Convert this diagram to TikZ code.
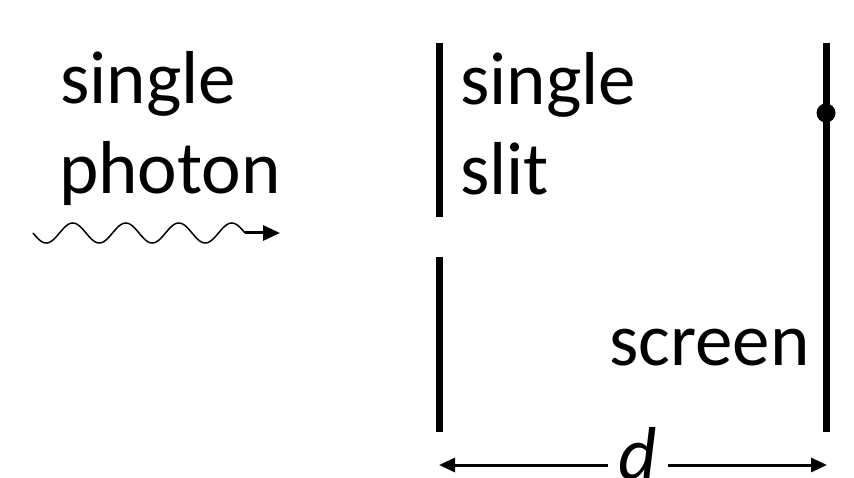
\documentclass[tikz,border=0pt]{standalone}
\usepackage{fontspec}
\setmainfont{Carlito}
\usetikzlibrary{arrows.meta}
\begin{document}
\begin{tikzpicture}[x=1pt,y=-1pt,
  label/.style={anchor=base west,inner sep=0pt,font=\fontsize{75}{90}\selectfont},
  barrier/.style={line width=7pt},
  dimline/.style={line width=3pt,-{Triangle[length=16pt,width=14pt]}},
  beam/.style={line width=3pt,-{Triangle[length=17pt,width=15pt]}}]
\useasboundingbox (0,0) rectangle (854,478);

% labels
\node[label] (t1) at (60,104) {single};
\node[label] (t2) at (59,194) {photon};
\node[label] (s1) at (460,105) {single};
\node[label] (s2) at (460,195) {slit};
\node[label] (sc) at (609,365) {screen};

% slit (two halves) and screen
\coordinate (uA) at (439,43);  \coordinate (uB) at (439,217);
\coordinate (lA) at (439,257); \coordinate (lB) at (439,432);
\coordinate (scA) at (826,43); \coordinate (scB) at (826,432);
\draw[barrier] (uA) -- (uB);
\draw[barrier] (lA) -- (lB);
\draw[barrier] (scA) -- (scB);
\fill (826,113) circle (9.5pt);

% incoming photon: four periods of 53pt, then a short straight arrow
\coordinate (w1) at (245,233);
\coordinate (w2) at (280,233);
\draw[line width=1.5pt] plot[domain=0:212,samples=240,smooth]
  ({33+\x},{233+10*sin(6.79245*\x)});
\draw[beam] (w1) -- (w2);

% distance slit-screen
\node[inner xsep=11pt,inner ysep=0pt,anchor=base,
      font=\fontsize{75}{90}\selectfont\itshape] (d) at (638,479) {d};
\coordinate (dl) at (439,465);
\coordinate (dr) at (827,465);
\draw[dimline] (d.west |- dl) -- (dl);
\draw[dimline] (d.east |- dr) -- (dr);
\end{tikzpicture}
\end{document}
